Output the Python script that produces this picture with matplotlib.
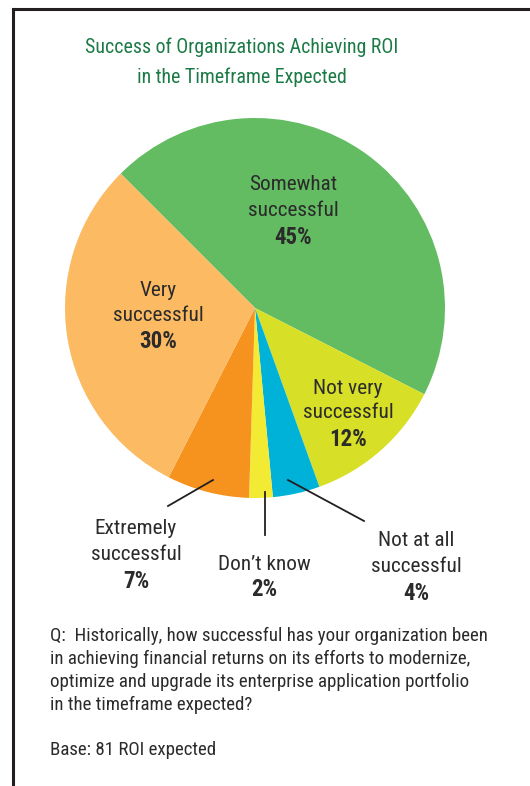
import matplotlib
matplotlib.use("Agg")
import matplotlib.pyplot as plt
from matplotlib.lines import Line2D

categories = ["Somewhat successful", "Not very successful", "Not at all successful",
              "Don't know", "Extremely successful", "Very successful"]
values = [45, 12, 4, 2, 7, 30]
colors = ["#63BC62", "#D7DF26", "#00B1D8", "#F3EA33", "#F6931F", "#FCBA63"]

title_lines = ["Success of Organizations Achieving ROI", "in the Timeframe Expected"]
question_lines = [
    "Q:  Historically, how successful has your organization been",
    "in achieving financial returns on its efforts to modernize,",
    "optimize and upgrade its enterprise application portfolio",
    "in the timeframe expected?",
]
base_text = "Base: 81 ROI expected"

FONT = ["Roboto Condensed", "Roboto", "DejaVu Sans"]
TXT = "#2b2b2b"
W, H = 530, 786

fig = plt.figure(figsize=(W / 100, H / 100), dpi=100)
fig.patch.set_facecolor("white")

def fx(x):
    return x / W

def fy(y):
    return 1 - y / H

# border lines
fig.add_artist(Line2D([fx(13), fx(530)], [fy(9), fy(9)], color="#231f20", lw=2.2, transform=fig.transFigure))
fig.add_artist(Line2D([fx(13), fx(13)], [fy(9), fy(786)], color="#231f20", lw=2.2, transform=fig.transFigure))

# pie
cx, cy, r = 255, 308, 190
ax = fig.add_axes([fx(cx - r), fy(cy + r), 2 * r / W, 2 * r / H])
ax.pie(values, colors=colors, startangle=135, counterclock=False,
       wedgeprops=dict(linewidth=0))
ax.set_xlim(-1, 1)
ax.set_ylim(-1, 1)
ax.axis("off")

# title
fig.text(fx(242), fy(47), title_lines[0], ha="center", va="center", fontsize=14.3,
         color="#1B7A46", family=FONT)
fig.text(fx(242), fy(77), title_lines[1], ha="center", va="center", fontsize=14.3,
         color="#1B7A46", family=FONT)

def label(x, ys, lines, pct):
    for y, t in zip(ys[:-1], lines):
        fig.text(fx(x), fy(y), t, ha="center", va="center", fontsize=15.3, color=TXT, family=FONT)
    fig.text(fx(x), fy(ys[-1]), f"{pct}%", ha="center", va="center", fontsize=16.5,
             color=TXT, family=FONT, fontweight="bold")

label(293, [185, 211, 238], ["Somewhat", "successful"], values[0])
label(158, [290, 316, 342], ["Very", "successful"], values[5])
label(348, [388, 413, 440], ["Not very", "successful"], values[1])
label(136, [529, 555, 581], ["Extremely", "successful"], values[4])
label(264, [565, 590], ["Don\u2019t know"], values[3])
label(416, [541, 567, 593], ["Not at all", "successful"], values[2])

# leader lines
for (x0, y0, x1, y1) in [(213, 480, 168, 506), (265, 492, 265, 535), (288, 480, 364, 521)]:
    fig.add_artist(Line2D([fx(x0), fx(x1)], [fy(y0), fy(y1)], color="#231f20", lw=1.3,
                          transform=fig.transFigure))

# question
for i, t in enumerate(question_lines):
    fig.text(fx(50), fy(636 + 23 * i), t, ha="left", va="center", fontsize=13.6, color=TXT, family=FONT)
fig.text(fx(50), fy(750), base_text, ha="left", va="center", fontsize=13.6, color=TXT, family=FONT)

fig.savefig("out.png", dpi=100, facecolor="white")
